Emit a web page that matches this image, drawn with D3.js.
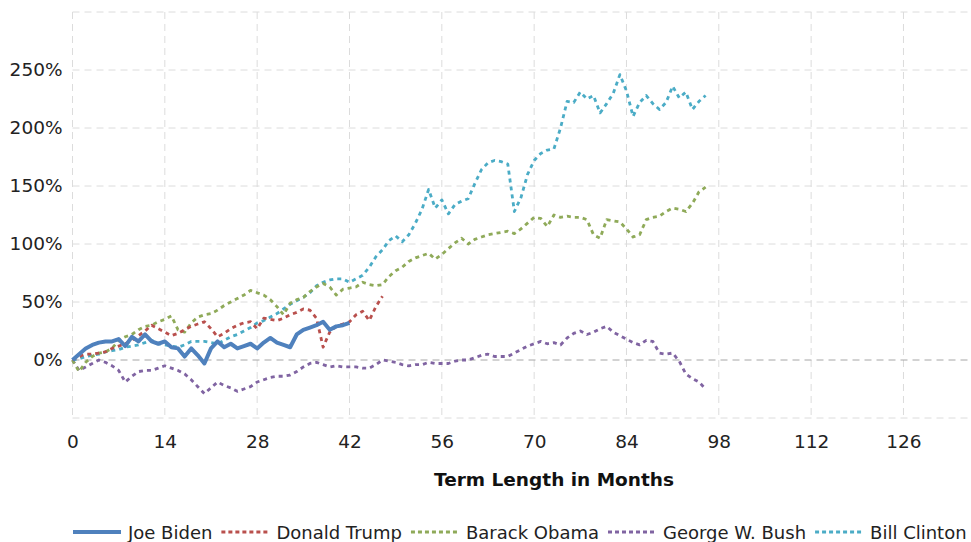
<!DOCTYPE html>
<html>
<head>
<meta charset="utf-8">
<script src="https://cdn.jsdelivr.net/npm/d3@7/dist/d3.min.js"></script>
<style>
  body { margin: 0; background: #fff; }
  svg { display: block; font-family: "DejaVu Sans", Verdana, sans-serif; }
</style>
</head>
<body>
<svg id="chart" width="971" height="542"></svg>
<script>
// tick labels
const monthTicks = [0, 14, 28, 42, 56, 70, 84, 98, 112, 126];
const pctTicks = [0, 50, 100, 150, 200, 250];

// series names, in legend order
const presidents = ["Joe Biden", "Donald Trump", "Barack Obama", "George W. Bush", "Bill Clinton"];

// cumulative S&P 500 return (%) by month of term, month 0 first
const bidenValues = [0, 5, 10, 13, 15, 16, 16, 18, 12, 20, 16, 22, 16, 14, 16, 11, 10, 3, 10, 4,
  -3, 10, 16, 11, 14, 10, 12, 14, 10, 15, 19, 15, 13, 11, 22, 26, 28, 30, 33, 26, 29, 30, 32];

const trumpValues = [0, 3, 5, 5, 6, 7, 10, 12, 14, 17, 21, 25, 30, 27, 24, 21, 23, 26, 29, 31,
  33, 27, 20, 23, 27, 30, 32, 33, 27, 36, 35, 34, 36, 39, 41, 44, 43, 36, 11, 24,
  29, 31, 33, 39, 42, 34, 46, 55];

const obamaValues = [0, -10, -2, 3, 6, 7, 10, 17, 20, 22, 26, 29, 30, 33, 35, 38, 26, 24, 32, 37,
  39, 40, 43, 47, 50, 53, 56, 60, 58, 56, 52, 46, 39, 49, 52, 54, 59, 63, 66, 63,
  56, 61, 62, 63, 67, 65, 64, 65, 72, 77, 80, 85, 88, 90, 92, 87, 91, 96, 101, 105,
  100, 104, 106, 108, 109, 110, 111, 109, 113, 118, 123, 122, 115, 125, 123, 124, 123, 123, 121, 108,
  105, 121, 120, 119, 113, 106, 108, 121, 123, 124, 128, 131, 130, 128, 135, 145, 149];

const bushValues = [0, -9, -6, -3, 0, -2, -5, -9, -19, -14, -10, -9, -9, -7, -5, -7, -9, -12, -17, -23,
  -29, -24, -19, -22, -24, -27, -25, -23, -19, -17, -15, -14, -14, -13, -10, -6, -3, -2, -4, -6,
  -5, -6, -6, -6, -7, -7, -4, 0, -1, -2, -4, -5, -4, -4, -2, -3, -3, -3, -1, 0,
  0, 2, 4, 5, 3, 3, 3, 6, 9, 12, 14, 16, 14, 15, 13, 19, 23, 25, 22, 24,
  27, 29, 24, 21, 18, 15, 13, 17, 16, 6, 5, 6, -1, -12, -16, -19, -25];

const clintonValues = [0, 1, 3, 4, 5, 7, 8, 9, 11, 12, 13, 15, 17, 14, 13, 12, 11, 13, 16, 16,
  16, 15, 14, 17, 20, 22, 25, 28, 32, 34, 37, 40, 44, 48, 51, 54, 58, 64, 67, 69,
  70, 70, 67, 70, 73, 80, 89, 95, 103, 107, 102, 108, 118, 130, 147, 131, 138, 126, 134, 137,
  139, 152, 164, 170, 172, 171, 169, 128, 140, 160, 172, 178, 181, 182, 200, 223, 222, 231, 225, 228,
  213, 221, 230, 246, 232, 210, 222, 228, 221, 216, 222, 236, 226, 231, 216, 223, 228];

const colors = ["#4f81bd", "#b9504d", "#8faa59", "#8064a2", "#4bacc6"];

const series = presidents.map((name, i) => ({
  name: name,
  values: [bidenValues, trumpValues, obamaValues, bushValues, clintonValues][i],
  color: colors[i],
  solid: i === 0
}));

const svg = d3.select("#chart");
const plotTop = 12, plotBottom = 418, plotLeft = 72.5;

const x = d3.scaleLinear().domain([0, 146]).range([plotLeft, plotLeft + 146 * 6.595]);
const y = d3.scaleLinear().domain([-50, 300]).range([plotBottom, plotTop]);

// grid
const grid = svg.append("g").attr("class", "grid");
grid.selectAll("line.h")
  .data(d3.range(-50, 301, 50).filter(d => d !== 0))
  .join("line")
  .attr("x1", plotLeft).attr("x2", 971)
  .attr("y1", d => y(d)).attr("y2", d => y(d))
  .attr("stroke", "#dcdcdc").attr("stroke-width", 1).attr("stroke-dasharray", "7,5");
grid.selectAll("line.v")
  .data(d3.range(0, 141, 14))
  .join("line")
  .attr("x1", d => x(d)).attr("x2", d => x(d))
  .attr("y1", plotTop).attr("y2", plotBottom)
  .attr("stroke", "#dcdcdc").attr("stroke-width", 1).attr("stroke-dasharray", "7,5");
grid.append("line")
  .attr("x1", plotLeft).attr("x2", 971)
  .attr("y1", y(0)).attr("y2", y(0))
  .attr("stroke", "#a6a6a6").attr("stroke-width", 1).attr("stroke-dasharray", "7,5");

// axes
const yAxis = svg.append("g")
  .attr("transform", `translate(${plotLeft},0)`)
  .call(d3.axisLeft(y).tickValues(pctTicks).tickFormat(d => d + "%").tickSize(0).tickPadding(10));
const xAxis = svg.append("g")
  .attr("transform", `translate(0,${plotBottom})`)
  .call(d3.axisBottom(x).tickValues(monthTicks).tickSize(0).tickPadding(17));
[yAxis, xAxis].forEach(a => {
  a.select(".domain").remove();
  a.selectAll("text").attr("font-size", 18.5).attr("font-family", "DejaVu Sans, Verdana, sans-serif").attr("fill", "#222");
});

svg.append("text")
  .attr("x", 554).attr("y", 486)
  .attr("text-anchor", "middle")
  .attr("font-size", 18.5).attr("font-weight", "bold").attr("fill", "#111")
  .text("Term Length in Months");

// lines, Biden last so it sits on top
const line = d3.line().x((d, i) => x(i)).y(d => y(d));
svg.append("g").selectAll("path")
  .data(series.slice().reverse())
  .join("path")
  .attr("d", d => line(d.values))
  .attr("fill", "none")
  .attr("stroke", d => d.color)
  .attr("stroke-width", d => d.solid ? 4 : 2.8)
  .attr("stroke-dasharray", d => d.solid ? null : "4,4")
  .attr("stroke-linejoin", "round");

// legend
const legend = svg.append("g").attr("transform", "translate(0,532)");
let lx = 73;
series.forEach(s => {
  const item = legend.append("g").attr("transform", `translate(${lx},0)`);
  item.append("line")
    .attr("x1", 0).attr("x2", 48).attr("y1", 0).attr("y2", 0)
    .attr("stroke", s.color)
    .attr("stroke-width", s.solid ? 4 : 2.8)
    .attr("stroke-dasharray", s.solid ? null : "4,3");
  const t = item.append("text")
    .attr("x", 55).attr("y", 6.5)
    .attr("font-size", 18).attr("fill", "#222")
    .text(s.name);
  lx += 55 + t.node().getComputedTextLength() + 9;
});
</script>
</body>
</html>
